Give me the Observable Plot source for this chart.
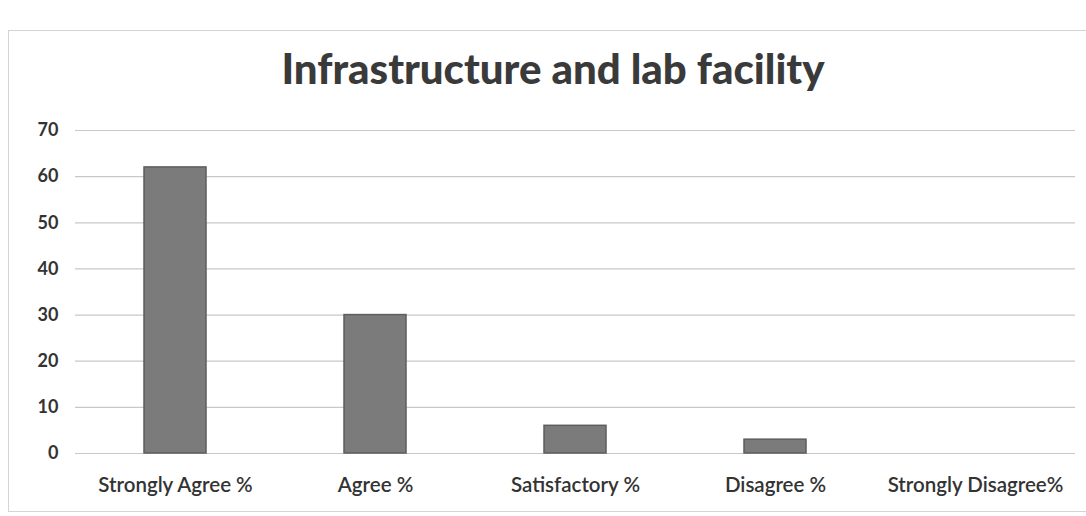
<!DOCTYPE html>
<html>
<head>
<meta charset="utf-8">
<script src="https://cdn.jsdelivr.net/npm/d3@7"></script>
<script src="https://cdn.jsdelivr.net/npm/@observablehq/plot@0.6"></script>
<style>
  html, body { margin: 0; padding: 0; background: #fff; width: 1086px; height: 516px; overflow: hidden; }
  #frame { position: absolute; left: 8px; top: 30px; width: 1090px; height: 482px; border: 1px solid #d4d4d4; box-sizing: border-box; }
  #title { position: absolute; left: 0; top: 0; width: 1106px; height: 100px; text-align: center; font-family: Lato, "Open Sans", sans-serif; font-weight: 900; font-size: 42px; color: #3a3a3a; line-height: 136px; }
  #chart { position: absolute; left: 0; top: 100px; }
</style>
</head>
<body>
<div id="frame"></div>
<div id="title">Infrastructure and lab facility</div>
<div id="chart"></div>
<script>
const categories = ["Strongly Agree %", "Agree %", "Satisfactory %", "Disagree %", "Strongly Disagree%"];
const values = [62, 30, 6, 3, 0];
const yTicks = [0, 10, 20, 30, 40, 50, 60, 70];

const data = categories.map((c, i) => ({category: c, value: values[i]}));

const chart = Plot.plot({
  width: 1086,
  height: 416,
  marginLeft: 75,
  marginRight: 11,
  marginTop: 30,
  marginBottom: 63,
  style: {fontFamily: "Lato, 'Open Sans', sans-serif", background: "transparent"},
  x: {domain: categories, paddingInner: 0.69, paddingOuter: 0.345, label: null},
  y: {domain: [0, 70], ticks: yTicks, label: null},
  marks: [
    Plot.gridY(yTicks, {stroke: "#c8c8c8", strokeOpacity: 1, strokeWidth: 1.2}),
    Plot.barY(data, {x: "category", y: "value", fill: "#7b7b7b", stroke: "#5e5e5e", strokeWidth: 1.5}),
    Plot.axisY(yTicks, {tickSize: 0, tickPadding: 17, fontSize: 18, fontWeight: 700, fill: "#333", label: null}),
    Plot.axisX({tickSize: 0, tickPadding: 24, fontSize: 20.5, fontWeight: 600, fill: "#333", label: null})
  ]
});
document.getElementById("chart").appendChild(chart);
</script>
</body>
</html>
